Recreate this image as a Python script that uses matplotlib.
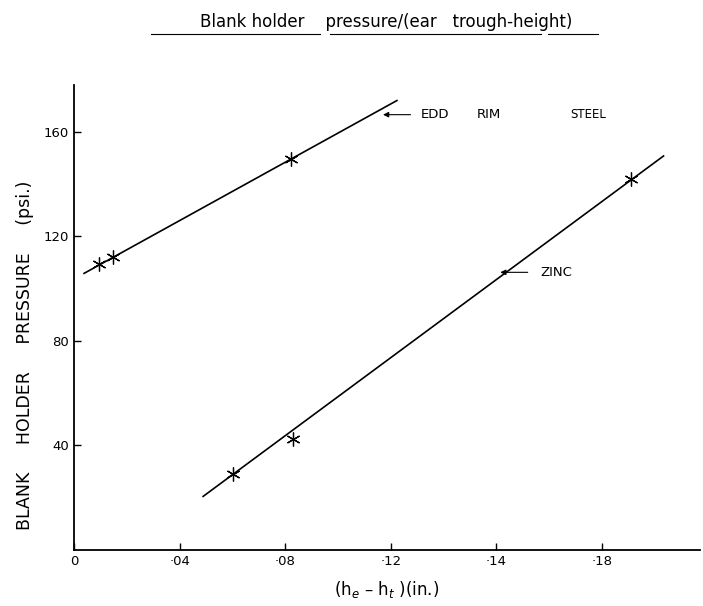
import matplotlib
matplotlib.use('Agg')
from matplotlib import pyplot as plt
from matplotlib.lines import Line2D

plt.rcParams['font.family'] = ['DejaVu Sans']

# measured points (x = he - ht in inches, y = blank holder pressure psi)
steel_x = [0.0095, 0.0149, 0.0823]
steel_y = [109.3, 112.2, 149.5]
zinc_x = [0.0603, 0.083, 0.2108]
zinc_y = [29.1, 42.6, 141.9]

# drawn straight lines (end points)
steel_line_x = [0.0038, 0.1223]
steel_line_y = [105.8, 171.9]
zinc_line_x = [0.0489, 0.2233]
zinc_line_y = [20.5, 150.7]

x_ticks = [0, 0.04, 0.08, 0.12, 0.16, 0.20]
x_ticklabels = ['0', '·04', '·08', '·12', '·14', '·18']
y_ticks = [40, 80, 120, 160]

fig = plt.figure(figsize=(7.03, 6.06), dpi=100)
ax = fig.add_axes([0.1053, 0.0924, 0.89, 0.768])

ax.plot(steel_line_x, steel_line_y, color='black', lw=1.2)
ax.plot(zinc_line_x, zinc_line_y, color='black', lw=1.2)
ax.plot(steel_x, steel_y, ls='none', marker=(6, 2, 0), ms=10, mew=0.9, color='black')
ax.plot(zinc_x, zinc_y, ls='none', marker=(6, 2, 0), ms=10, mew=0.9, color='black')

ax.annotate('', xy=(0.116, 166.5), xytext=(0.1285, 166.5),
            arrowprops=dict(arrowstyle='-|>', color='black', lw=0.8, mutation_scale=8))
ax.text(0.1312, 166.5, 'EDD', fontsize=9.5, va='center')
ax.text(0.1525, 166.5, 'RIM', fontsize=9.5, va='center')
ax.text(0.188, 166.5, 'STEEL', fontsize=8.5, va='center')
ax.annotate('', xy=(0.1604, 106.2), xytext=(0.1729, 106.2),
            arrowprops=dict(arrowstyle='-|>', color='black', lw=0.8, mutation_scale=8))
ax.text(0.1767, 106.2, 'ZINC', fontsize=9.5, va='center')

ax.set_xlim(0, 0.237)
ax.set_ylim(0, 178)
ax.set_xticks(x_ticks)
ax.set_xticklabels(x_ticklabels, fontsize=9.5)
ax.set_yticks(y_ticks)
ax.set_yticklabels([str(v) for v in y_ticks], fontsize=9.5)
ax.tick_params(direction='in', length=5, width=1)
ax.spines['top'].set_visible(False)
ax.spines['right'].set_visible(False)
ax.spines['left'].set_linewidth(1.3)
ax.spines['bottom'].set_linewidth(1.3)

ax.set_xlabel('(h$_e$ – h$_t$ )(in.)', fontsize=12, labelpad=8)
fig.text(0.036, 0.414, 'BLANK     HOLDER     PRESSURE     (psi.)',
         rotation=90, ha='center', va='center', fontsize=12.5)

fig.text(0.55, 0.963, 'Blank holder    pressure/(ear   trough-height)',
         ha='center', va='center', fontsize=12)
fig.add_artist(Line2D([0.215, 0.455], [0.944, 0.944], color='black', lw=0.8))
fig.add_artist(Line2D([0.47, 0.77], [0.944, 0.944], color='black', lw=0.8))
fig.add_artist(Line2D([0.78, 0.85], [0.944, 0.944], color='black', lw=0.8))

plt.savefig('out.png', dpi=100)
